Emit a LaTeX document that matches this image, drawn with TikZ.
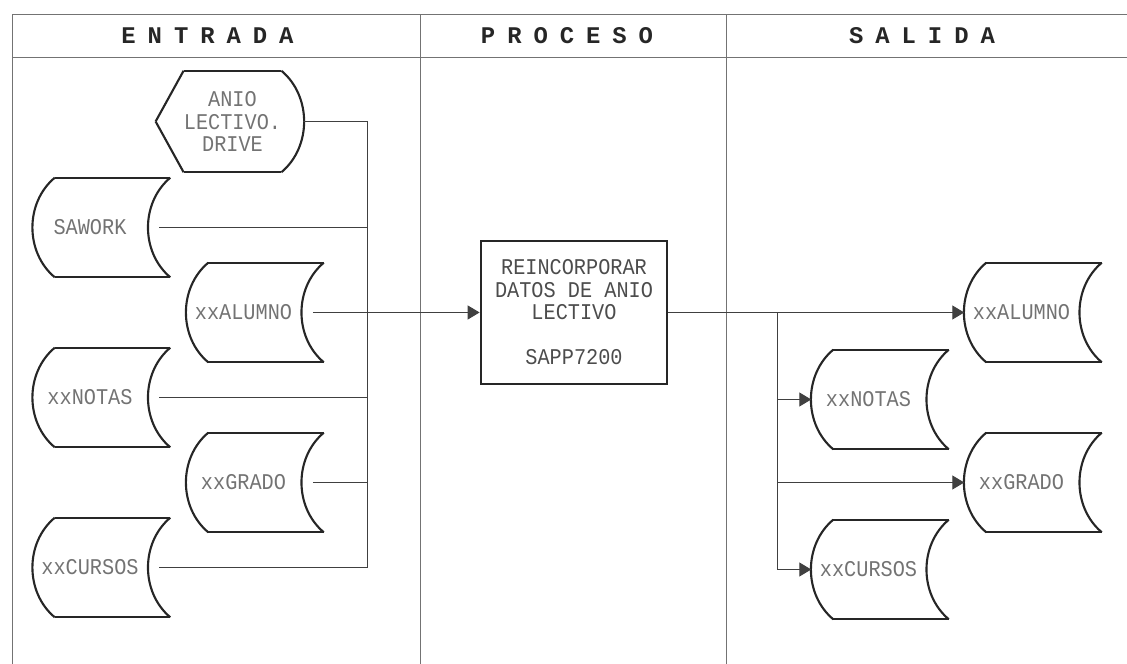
\documentclass[tikz,border=0pt]{standalone}
\usepackage{fontspec}
\usetikzlibrary{arrows.meta, positioning, calc}
\newfontfamily\dotfont[FakeStretch=0.9]{Liberation Mono}
\newfontfamily\headfont[LetterSpace=50]{Liberation Mono}
\tikzstyle{gridline} = [black!55, line width=0.6pt]
\tikzstyle{heading} = [font=\headfont\bfseries\fontsize{17}{17}\selectfont, text=black!85]
\tikzstyle{storeline} = [draw, black!85, line width=1.5pt]
\tikzstyle{store} = [minimum width=2.85cm, minimum height=2.475cm, inner sep=0pt, font=\dotfont\fontsize{16}{16}\selectfont, text=black!55,
  append after command={
    ([xshift=0.55cm]\tikzlastnode.north west) edge[storeline, bend right=50] ([xshift=0.55cm]\tikzlastnode.south west)
    ([xshift=0.55cm]\tikzlastnode.north west) edge[storeline] ([xshift=0.575cm]\tikzlastnode.north east)
    ([xshift=0.575cm]\tikzlastnode.north east) edge[storeline, bend right=50] ([xshift=0.575cm]\tikzlastnode.south east)
    ([xshift=0.55cm]\tikzlastnode.south west) edge[storeline] ([xshift=0.575cm]\tikzlastnode.south east)
  }]
\tikzstyle{display} = [minimum width=2.225cm, minimum height=2.525cm, inner sep=0pt, align=center, font=\dotfont\fontsize{16}{16}\selectfont, text=black!55,
  append after command={
    (\tikzlastnode.north west) edge[storeline] (\tikzlastnode.north east)
    (\tikzlastnode.south west) edge[storeline] (\tikzlastnode.south east)
    (\tikzlastnode.north west) edge[storeline] ([xshift=-0.7cm]\tikzlastnode.west)
    ([xshift=-0.7cm]\tikzlastnode.west) edge[storeline] (\tikzlastnode.south west)
    (\tikzlastnode.north east) edge[storeline, bend left=50] (\tikzlastnode.south east)
  }]
\tikzstyle{process} = [rectangle, draw=black!85, line width=2pt, minimum width=4.65cm, minimum height=3.575cm, align=center, font=\dotfont\fontsize{16}{16}\selectfont, text=black!70]
\tikzstyle{link} = [black!75, line width=0.7pt]
\tikzstyle{arrow} = [link, -{Triangle[length=8.5pt, width=10pt]}]

\begin{document}
\begin{tikzpicture}[node distance=4.25cm]
\useasboundingbox (0,0) rectangle (28.175,16.6);

% columns
\draw[gridline] (0.3,0) -- (0.3,16.25) -- (28.175,16.25);
\draw[gridline] (0.3,15.175) -- (28.175,15.175);
\draw[gridline] (10.5,0) -- (10.5,16.25);
\draw[gridline] (18.15,0) -- (18.15,16.25);

\node (entrada) [heading] at (5.1875,15.71) {ENTRADA};
\node (proceso) [heading, right of=entrada, xshift=4.7375cm] {PROCESO};
\node (salida) [heading, right of=proceso, xshift=4.625cm] {SALIDA};

% entrada
\node (inSAWORK) [store] at (2.25,10.9125) {SAWORK};
\node (inNOTAS) [store, below of=inSAWORK] {xxNOTAS};
\node (inCURSOS) [store, below of=inNOTAS] {xxCURSOS};
\node (inALUMNO) [store, right of=inSAWORK, xshift=-0.4125cm, yshift=-2.125cm] {xxALUMNO};
\node (inGRADO) [store, below of=inALUMNO] {xxGRADO};
\node (drive) [display, above of=inALUMNO, xshift=-0.275cm, yshift=0.525cm] {ANIO\\LECTIVO.\\DRIVE};

% proceso
\node (proc) [process, right of=inALUMNO, xshift=4.0125cm] {REINCORPORAR\\DATOS DE ANIO\\LECTIVO\\[16pt]SAPP7200};

% salida
\node (outALUMNO) [store, right of=proc, xshift=6.9375cm] {xxALUMNO};
\node (outGRADO) [store, below of=outALUMNO] {xxGRADO};
\node (outNOTAS) [store, left of=outALUMNO, xshift=0.425cm, yshift=-2.175cm] {xxNOTAS};
\node (outCURSOS) [store, below of=outNOTAS] {xxCURSOS};

\coordinate (inbus) at ([xshift=1.675cm]inALUMNO.east);
\draw[link] ([xshift=0.55cm]drive.east) -| (inbus |- inCURSOS.east) -- ([xshift=0.3cm]inCURSOS.east);
\draw[link] ([xshift=0.3cm]inSAWORK.east) -- (inbus |- inSAWORK.east);
\draw[link] ([xshift=0.3cm]inNOTAS.east) -- (inbus |- inNOTAS.east);
\draw[link] ([xshift=0.3cm]inGRADO.east) -- (inbus |- inGRADO.east);
\draw[arrow] ([xshift=0.3cm]inALUMNO.east) -- (proc.west);

\coordinate (outbus) at ([xshift=2.725cm]proc.east);
\draw[arrow] (proc.east) -- (outALUMNO.west);
\draw[arrow] (outbus) |- (outCURSOS.west);
\draw[arrow] (outbus |- outNOTAS.west) -- (outNOTAS.west);
\draw[arrow] (outbus |- outGRADO.west) -- (outGRADO.west);

\end{tikzpicture}
\end{document}
